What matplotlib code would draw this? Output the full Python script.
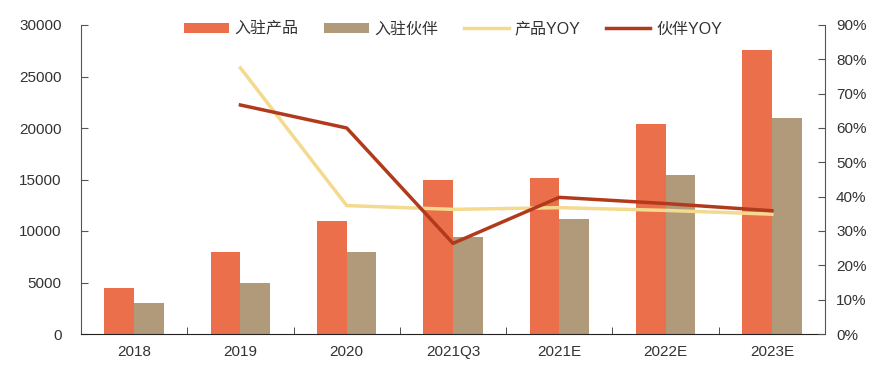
import matplotlib
matplotlib.use("Agg")
import matplotlib.pyplot as plt
import numpy as np
from matplotlib.ticker import FuncFormatter, MultipleLocator

plt.rcParams['font.family'] = ['Liberation Sans', 'Noto Sans CJK SC', 'DejaVu Sans']

categories = ["2018", "2019", "2020", "2021Q3", "2021E", "2022E", "2023E"]
products = [4500, 8000, 11000, 15000, 15100, 20400, 27600]
partners = [3000, 5000, 8000, 9400, 11200, 15400, 21000]
product_yoy = [None, 0.775, 0.374, 0.363, 0.368, 0.360, 0.349]
partner_yoy = [None, 0.667, 0.600, 0.264, 0.398, 0.380, 0.359]

c_prod = "#EC6F4B"
c_part = "#B09A7A"
c_pyoy = "#F3DA8E"
c_tyoy = "#B23A1C"

fig = plt.figure(figsize=(8.81, 3.66), dpi=100)
ax = fig.add_axes([81/881, 1-334/366, (825-81)/881, (334-25)/366])
ax2 = ax.twinx()

x = np.arange(len(categories))
w = 0.28
ax.bar(x - w/2, products, w, color=c_prod, label="入驻产品", zorder=2)
ax.bar(x + w/2, partners, w, color=c_part, label="入驻伙伴", zorder=2)

xl = x[1:]
ax2.plot(xl, product_yoy[1:], color=c_pyoy, lw=2.5, label="产品YOY", zorder=3)
ax2.plot(xl, partner_yoy[1:], color=c_tyoy, lw=2.5, label="伙伴YOY", zorder=4)

ax.set_xlim(-0.5, len(categories) - 0.5)
ax.set_ylim(0, 30000)
ax2.set_ylim(0, 0.9)
ax.yaxis.set_major_locator(MultipleLocator(5000))
ax2.yaxis.set_major_locator(MultipleLocator(0.1))
ax2.yaxis.set_major_formatter(FuncFormatter(lambda v, p: f"{v*100:.0f}%"))

ax.set_xticks(x)
ax.set_xticklabels(categories)
ax.set_xticks(np.arange(-0.5, len(categories) + 0.5, 1), minor=True)
ax.tick_params(axis='x', which='major', length=0, labelsize=11, colors='#333333', pad=8)
ax.tick_params(axis='x', which='minor', direction='in', length=5, color='#333333')
ax.tick_params(axis='y', direction='in', length=5, labelsize=11, labelcolor='#333333', color='#555555', pad=14)
ax2.tick_params(axis='y', direction='in', length=5, labelsize=11, labelcolor='#333333', color='#555555', pad=8)

for a in (ax, ax2):
    a.spines['top'].set_visible(False)
ax.spines['left'].set_color('#555555')
ax2.spines['right'].set_color('#555555')
ax2.spines['left'].set_visible(False)
ax.spines['right'].set_visible(False)
ax2.spines['bottom'].set_visible(False)
ax.spines['bottom'].set_color('#222222')

h1, l1 = ax.get_legend_handles_labels()
h2, l2 = ax2.get_legend_handles_labels()
leg = fig.legend(h1 + h2, l1 + l2, loc='center', bbox_to_anchor=(453/881, 1-29/366), ncol=4,
                 frameon=False, handlelength=2.8, handleheight=0.6,
                 columnspacing=1.6, handletextpad=0.35,
                 prop={'family': ['Liberation Sans', 'Noto Sans CJK SC'], 'size': 11.5})
for t in leg.get_texts():
    t.set_color('#333333')

fig.savefig("out.png", dpi=100)
